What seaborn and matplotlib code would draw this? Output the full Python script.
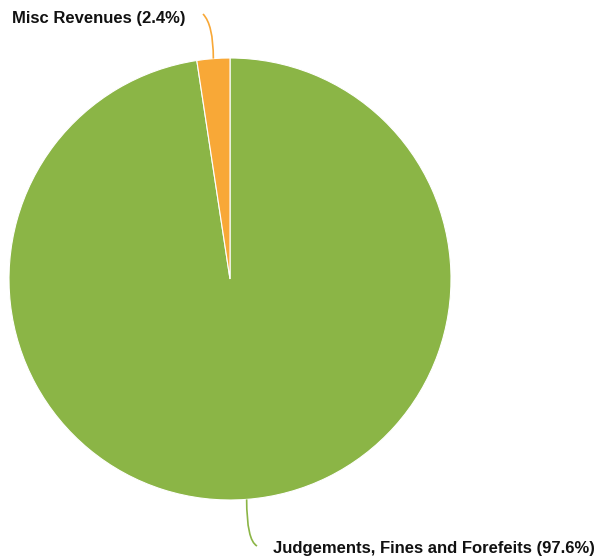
import matplotlib
matplotlib.use("Agg")
import matplotlib.pyplot as plt
from matplotlib.path import Path
from matplotlib.patches import PathPatch
import seaborn as sns
import numpy as np

categories = ["Judgements, Fines and Forefeits", "Misc Revenues"]
shares = [97.6, 2.4]
colors = ["#8bb546", "#f8a837"]

sns.set_theme(style="white")
plt.rcParams["font.family"] = ["Liberation Sans", "DejaVu Sans"]

W, H = 599, 559
fig = plt.figure(figsize=(W / 100, H / 100), dpi=100)
ax = fig.add_axes([0, 0, 1, 1])

cx, cy, r = 230, H - 279, 221
wedges, _ = ax.pie(shares, colors=colors, startangle=90, counterclock=False,
                   center=(cx, cy), radius=r, frame=True,
                   wedgeprops=dict(edgecolor="white", linewidth=0.8))
ax.set_xlim(0, W)
ax.set_ylim(0, H)
ax.set_aspect("equal")
ax.axis("off")

# leader lines from each slice midpoint to its label
label_specs = [
    # (end point, control offset, text pos, ha)
    ((257, H - 546), (0, -41), (273, H - 548), "left"),
    ((203, H - 14), (0, 34), (186, H - 18), "right"),
]
for w, cat, share, color, (end, ctrl, tpos, ha) in zip(
        wedges, categories, shares, colors, label_specs):
    mid = np.deg2rad((w.theta1 + w.theta2) / 2)
    sx, sy = cx + r * np.cos(mid), cy + r * np.sin(mid)
    cpt = (sx + ctrl[0] * 0.1, sy + ctrl[1])
    path = Path([(sx, sy), cpt, end], [Path.MOVETO, Path.CURVE3, Path.CURVE3])
    ax.add_patch(PathPatch(path, facecolor="none", edgecolor=color, lw=1.2))
    ax.text(tpos[0], tpos[1], f"{cat} ({share}%)", ha=ha, va="center",
            fontsize=12, fontweight="bold", color="#111111")

fig.savefig("out.png", dpi=100)
